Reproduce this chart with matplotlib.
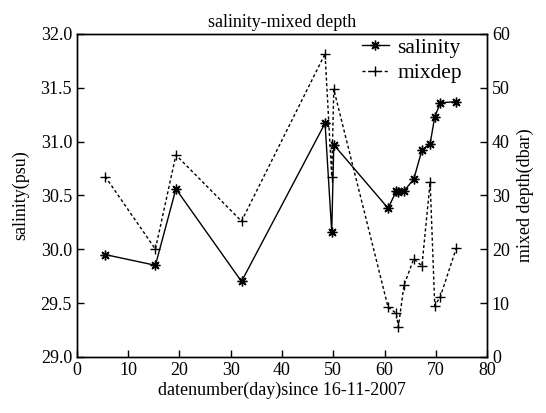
import matplotlib
matplotlib.use("Agg")
import matplotlib.pyplot as plt

plt.rcParams['font.family'] = ['Liberation Serif', 'DejaVu Serif']

days = [5.5, 15.3, 19.3, 32.1, 48.4, 49.7, 50.1, 60.7, 62.3, 62.7, 63.8,
        65.7, 67.3, 68.9, 69.8, 70.9, 74.0]
salinity = [29.95, 29.85, 30.56, 29.70, 31.17, 30.16, 30.97, 30.38, 30.54,
            30.53, 30.54, 30.65, 30.92, 30.98, 31.23, 31.36, 31.37]
mixdep = [33.5, 20.0, 37.5, 25.2, 56.3, 33.5, 49.7, 9.2, 8.1, 5.6, 13.3,
          18.2, 16.9, 32.5, 9.5, 11.2, 20.2]

x_ticks = [0, 10, 20, 30, 40, 50, 60, 70, 80]
left_ticks = [29.0, 29.5, 30.0, 30.5, 31.0, 31.5, 32.0]
right_ticks = [0, 10, 20, 30, 40, 50, 60]

fig = plt.figure(figsize=(5.46, 4.13), dpi=100)
ax = fig.add_axes([0.141, 0.136, 0.751, 0.782])
ax2 = ax.twinx()

l1, = ax.plot(days, salinity, color='black', linestyle='-', linewidth=1.0,
              marker=(8, 2, 0), markersize=7, markeredgewidth=1.0,
              label='salinity')
l2, = ax2.plot(days, mixdep, color='black', linestyle=(0, (2.2, 1.8)),
               linewidth=1.0, marker='+', markersize=7, markeredgewidth=1.0,
               label='mixdep')

fs = 13
ax.set_xlim(0, 80)
ax.set_ylim(29.0, 32.0)
ax2.set_ylim(0, 60)
ax.set_xticks(x_ticks)
ax.set_yticks(left_ticks)
ax.set_yticklabels([f"{v:.1f}" for v in left_ticks])
ax2.set_yticks(right_ticks)

ax.tick_params(direction='in', length=5, labelsize=fs, top=False, width=1)
ax2.tick_params(direction='in', length=5, labelsize=fs, width=1)
for a in (ax, ax2):
    for s in a.spines.values():
        s.set_linewidth(1.0)

ax.set_xlabel('datenumber(day)since 16-11-2007', fontsize=fs, labelpad=2)
ax.set_ylabel('salinity(psu)', fontsize=fs, labelpad=8)
ax2.set_ylabel('mixed depth(dbar)', fontsize=fs, labelpad=5)
ax.set_title('salinity-mixed depth', fontsize=fs, pad=5)

ax2.legend(handles=[l1, l2], loc='upper right', frameon=False, fontsize=15.5,
           handlelength=1.25, borderaxespad=0.0, labelspacing=0.25,
           handletextpad=0.4, bbox_to_anchor=(0.96, 1.015))

fig.savefig('out.png', dpi=100)
